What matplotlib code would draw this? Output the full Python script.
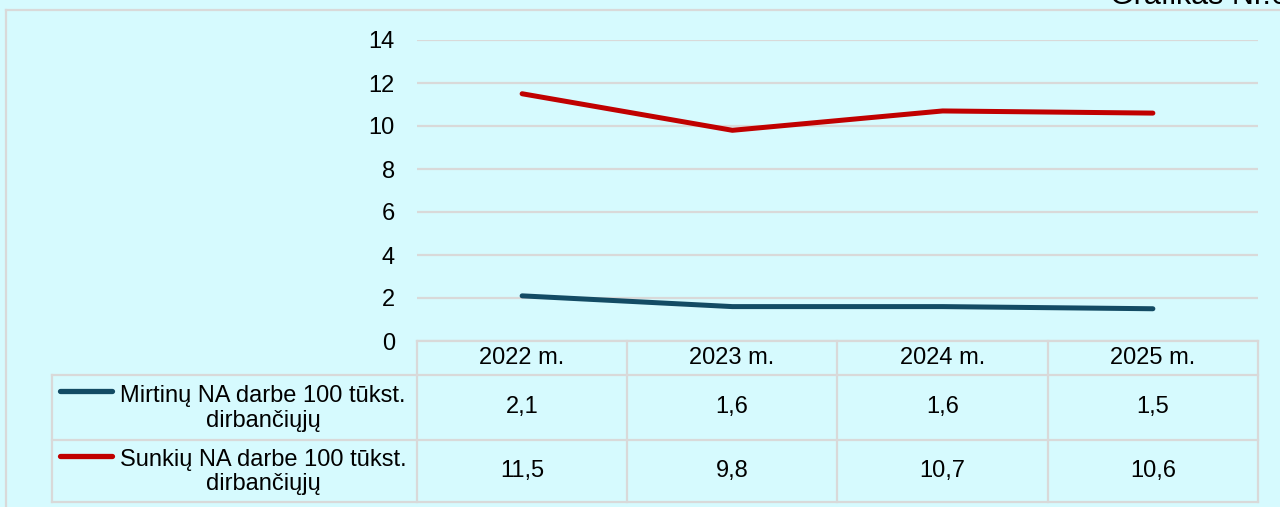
import matplotlib
matplotlib.use("Agg")
import matplotlib.pyplot as plt
from matplotlib.lines import Line2D

plt.rcParams['font.family'] = ['Liberation Sans', 'DejaVu Sans']

categories = ["2022 m.", "2023 m.", "2024 m.", "2025 m."]
series_names = ["Mirtinų NA darbe 100 tūkst.\ndirbančiųjų",
                "Sunkių NA darbe 100 tūkst.\ndirbančiųjų"]
mirtinu = [2.1, 1.6, 1.6, 1.5]
sunkiu = [11.5, 9.8, 10.7, 10.6]
series_values = [mirtinu, sunkiu]
series_colors = ["#134B64", "#C00000"]
yticks = [0, 2, 4, 6, 8, 10, 12, 14]
title = "Grafikas Nr.6"

W, H = 1280, 507
BG = "#D6FAFE"
GRID = "#D9D9D9"
FS = 17

fig = plt.figure(figsize=(W / 100, H / 100), dpi=100, facecolor=BG)

def fx(x):
    return x / W

def fy(y):
    return 1 - y / H

def hline(y, x0, x1):
    fig.add_artist(Line2D([fx(x0), fx(x1)], [fy(y), fy(y)], color=GRID, lw=1.6,
                          transform=fig.transFigure))

def vline(x, y0, y1):
    fig.add_artist(Line2D([fx(x), fx(x)], [fy(y0), fy(y1)], color=GRID, lw=1.6,
                          transform=fig.transFigure))

# plot area
L, R, T, B = 417, 1258, 40, 341
ax = fig.add_axes([fx(L), fy(B), (R - L) / W, (B - T) / H])
ax.set_facecolor(BG)
x = list(range(len(categories)))
for vals, col in zip(series_values, series_colors):
    ax.plot(x, vals, color=col, lw=3.6, solid_capstyle='round', zorder=3)
ax.set_xlim(-0.5, len(categories) - 0.5)
ax.set_ylim(0, 14)
ax.set_yticks(yticks)
ax.set_yticklabels([str(v) for v in yticks], fontsize=FS)
ax.tick_params(axis='y', length=0, pad=16)
ax.set_xticks([])
for s in ax.spines.values():
    s.set_visible(False)
ax.yaxis.grid(True, color=GRID, lw=1.6)
ax.set_axisbelow(True)

# outer frame
hline(10, 6, W)
vline(6, 10, H)

# title (partly clipped at the top, as in the reference)
fig.text(fx(1110), fy(4), title, fontsize=22, ha='left', va='baseline')

# data table
col_edges = [417, 627, 837, 1048, 1258]
row_edges = [341, 375, 440, 502]
hline(341, 417, 1258)
for y in row_edges[1:]:
    hline(y, 52, 1258)
for xe in col_edges:
    vline(xe, 341, 502)
vline(52, 375, 502)

for i, cat in enumerate(categories):
    cx = (col_edges[i] + col_edges[i + 1]) / 2
    fig.text(fx(cx), fy((row_edges[0] + row_edges[1]) / 2), cat, fontsize=FS,
             ha='center', va='center')

for r, (name, vals, col) in enumerate(zip(series_names, series_values, series_colors)):
    y0, y1 = row_edges[r + 1], row_edges[r + 2]
    cy = (y0 + y1) / 2
    for i, v in enumerate(vals):
        cx = (col_edges[i] + col_edges[i + 1]) / 2
        fig.text(fx(cx), fy(cy), f"{v:.1f}".replace('.', ','), fontsize=FS,
                 ha='center', va='center')
    fig.add_artist(Line2D([fx(60), fx(112)], [fy(y0 + 16), fy(y0 + 16)], color=col,
                          lw=3.8, solid_capstyle='round', transform=fig.transFigure))
    fig.text(fx(263), fy(cy + 1), name, fontsize=FS, ha='center', va='center',
             multialignment='center', linespacing=1.15)

fig.savefig("out.png", dpi=100, facecolor=BG)
